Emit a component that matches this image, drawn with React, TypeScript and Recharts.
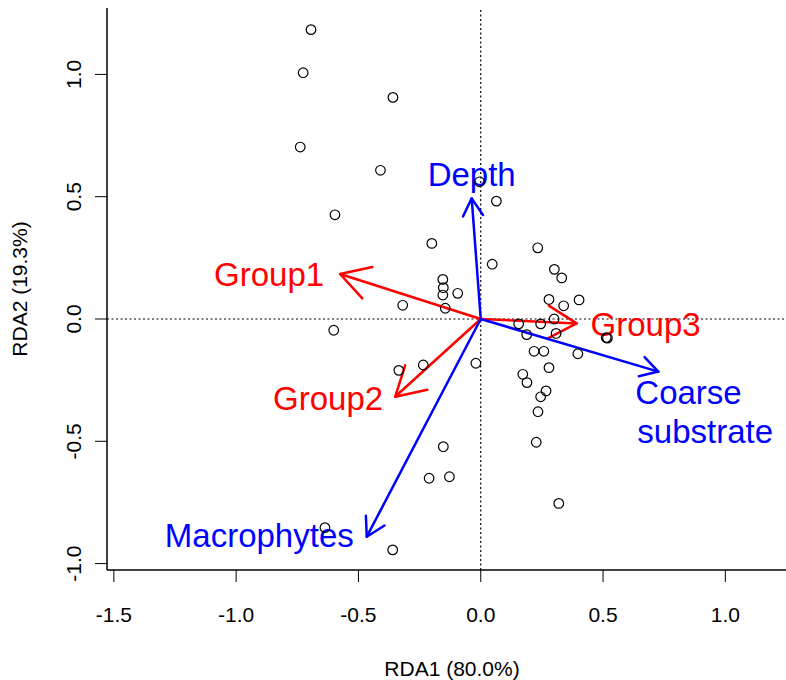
import React from 'react';
import { ScatterChart, Scatter, XAxis, YAxis, ReferenceLine } from 'recharts';

// site scores
const SITE_RDA1 = [
  -0.694, -0.726, -0.359, -0.738, -0.41, -0.596,
  -0.005, 0.064, -0.2, 0.233, 0.047, 0.301, 0.331, -0.155, -0.153, -0.155, -0.094,
  -0.319, -0.145, 0.279, 0.402, 0.339, 0.3, 0.155, 0.245, 0.308, 0.188, 0.513, 0.518,
  0.218, 0.258, 0.397, 0.279, -0.02, -0.235, -0.335, 0.172, 0.189, 0.267, 0.245, 0.234,
  -0.601, -0.153, -0.211, -0.128, 0.319, 0.227, -0.637, -0.36,
];
const SITE_RDA2 = [
  1.183, 1.007, 0.906, 0.703, 0.608, 0.426,
  0.561, 0.482, 0.309, 0.291, 0.224, 0.203, 0.168, 0.162, 0.128, 0.098, 0.105,
  0.056, 0.044, 0.08, 0.078, 0.054, 0.0, -0.02, -0.02, -0.059, -0.064, -0.076, -0.078,
  -0.132, -0.132, -0.142, -0.199, -0.181, -0.188, -0.21, -0.226, -0.26, -0.294, -0.318, -0.379,
  -0.046, -0.522, -0.651, -0.645, -0.754, -0.504, -0.853, -0.944,
];

// biplot arrows
const ARROW_NAMES = ['Depth', 'Group1', 'Group2', 'Group3', 'Macrophytes', 'Coarse\nsubstrate'];
const ARROW_RDA1 = [-0.037, -0.575, -0.35, 0.392, -0.466, 0.726];
const ARROW_RDA2 = [0.493, 0.184, -0.318, -0.018, -0.89, -0.215];

const X_TICKS = [-1.5, -1.0, -0.5, 0.0, 0.5, 1.0];
const Y_TICKS = [-1.0, -0.5, 0.0, 0.5, 1.0];

const X_DOMAIN: [number, number] = [-1.528, 1.293];
const Y_DOMAIN: [number, number] = [-1.0262, 1.2715];

const FONT = '"Liberation Sans", Arial, Helvetica, sans-serif';
const RED = '#ff0000';
const BLUE = '#0000ff';

// colour, head size and label placement (pixels from the tip)
const ARROW_STYLE: Record<string, { color: string; head: number; anchor: string; dx: number; dy: number }> = {
  Depth: { color: BLUE, head: 20, anchor: 'middle', dx: 0, dy: -12 },
  Group1: { color: RED, head: 33, anchor: 'end', dx: -16, dy: 12 },
  Group2: { color: RED, head: 33, anchor: 'end', dx: -12, dy: 13 },
  Group3: { color: RED, head: 33, anchor: 'start', dx: 14, dy: 13 },
  Macrophytes: { color: BLUE, head: 21, anchor: 'end', dx: -13, dy: 10 },
  'Coarse\nsubstrate': { color: BLUE, head: 20, anchor: 'start', dx: -23, dy: 32 },
};

const sites = SITE_RDA1.map((x, i) => ({ x, y: SITE_RDA2[i] }));

const XTick = (props: any) => {
  const { x, y, payload } = props;
  return (
    <text x={x} y={y + 40} textAnchor="middle" fontSize={21} fontFamily={FONT} fill="#000">
      {Number(payload.value).toFixed(1)}
    </text>
  );
};

const YTick = (props: any) => {
  const { x, y, payload } = props;
  const tx = x - 14;
  return (
    <text x={tx} y={y} transform={`rotate(-90, ${tx}, ${y})`} textAnchor="middle" fontSize={21} fontFamily={FONT} fill="#000">
      {Number(payload.value).toFixed(1)}
    </text>
  );
};

const renderArrow = (p: any, name: string) => {
  const { x1, y1, x2, y2 } = p;
  const st = ARROW_STYLE[name];
  const ang = Math.atan2(y2 - y1, x2 - x1);
  const a1 = ang + Math.PI - Math.PI / 6;
  const a2 = ang + Math.PI + Math.PI / 6;
  const b1 = `${x2 + st.head * Math.cos(a1)},${y2 + st.head * Math.sin(a1)}`;
  const b2 = `${x2 + st.head * Math.cos(a2)},${y2 + st.head * Math.sin(a2)}`;
  const lines = name.split('\n');
  return (
    <g>
      <line x1={x1} y1={y1} x2={x2} y2={y2} stroke={st.color} strokeWidth={2.5} strokeLinecap="round" />
      <polyline points={`${b1} ${x2},${y2} ${b2}`} fill="none" stroke={st.color} strokeWidth={2.5} strokeLinecap="round" strokeLinejoin="round" />
      {lines.map((t, k) => (
        <text
          key={t}
          x={x2 + st.dx + k * 2}
          y={y2 + st.dy + k * 39}
          textAnchor={st.anchor as any}
          fontSize={33}
          fontFamily={FONT}
          fill={st.color}
        >
          {t}
        </text>
      ))}
    </g>
  );
};

export default function App() {
  return (
    <div style={{ position: 'absolute', left: 0, top: 0, width: 786, height: 680, overflow: 'hidden', background: '#fff' }}>
      <ScatterChart width={800} height={680} margin={{ top: 8, right: 3, bottom: 0, left: 0 }}>
        <XAxis
          type="number"
          dataKey="x"
          domain={X_DOMAIN}
          allowDataOverflow
          ticks={X_TICKS}
          interval={0}
          height={110}
          tickSize={12}
          tickMargin={0}
          tickLine={{ stroke: '#000', strokeWidth: 1 }}
          axisLine={{ stroke: '#000', strokeWidth: 1.5 }}
          tick={<XTick />}
          label={{
            content: (lp: any) => {
              const vb = lp.viewBox || {};
              return (
                <text x={vb.x + vb.width / 2} y={676} textAnchor="middle" fontSize={21} fontFamily={FONT} fill="#000">
                  RDA1 (80.0%)
                </text>
              );
            },
          }}
        />
        <XAxis
          xAxisId="top"
          orientation="top"
          type="number"
          domain={X_DOMAIN}
          allowDataOverflow
          height={0}
          tick={false}
          tickLine={false}
          axisLine={{ stroke: '#000', strokeWidth: 1.5 }}
        />
        <YAxis
          type="number"
          dataKey="y"
          domain={Y_DOMAIN}
          allowDataOverflow
          ticks={Y_TICKS}
          interval={0}
          width={107}
          tickSize={12}
          tickMargin={0}
          tickLine={{ stroke: '#000', strokeWidth: 1 }}
          axisLine={{ stroke: '#000', strokeWidth: 1.5 }}
          tick={<YTick />}
          label={{
            content: (lp: any) => {
              const vb = lp.viewBox || {};
              const cy = vb.y + vb.height / 2;
              return (
                <text x={27} y={cy} transform={`rotate(-90, 27, ${cy})`} textAnchor="middle" fontSize={21} fontFamily={FONT} fill="#000">
                  RDA2 (19.3%)
                </text>
              );
            },
          }}
        />
        <ReferenceLine x={0} stroke="#000" strokeWidth={1.2} strokeDasharray="2 2.5" />
        <ReferenceLine y={0} stroke="#000" strokeWidth={1.2} strokeDasharray="2 2.5" />
        <Scatter
          data={sites}
          isAnimationActive={false}
          shape={(p: any) => <circle cx={p.cx} cy={p.cy} r={4.8} fill="none" stroke="#000" strokeWidth={1.2} />}
        />
        {ARROW_NAMES.map((name, i) => (
          <ReferenceLine
            key={name}
            segment={[
              { x: 0, y: 0 },
              { x: ARROW_RDA1[i], y: ARROW_RDA2[i] },
            ]}
            shape={(p: any) => renderArrow(p, name)}
          />
        ))}
      </ScatterChart>
    </div>
  );
}
